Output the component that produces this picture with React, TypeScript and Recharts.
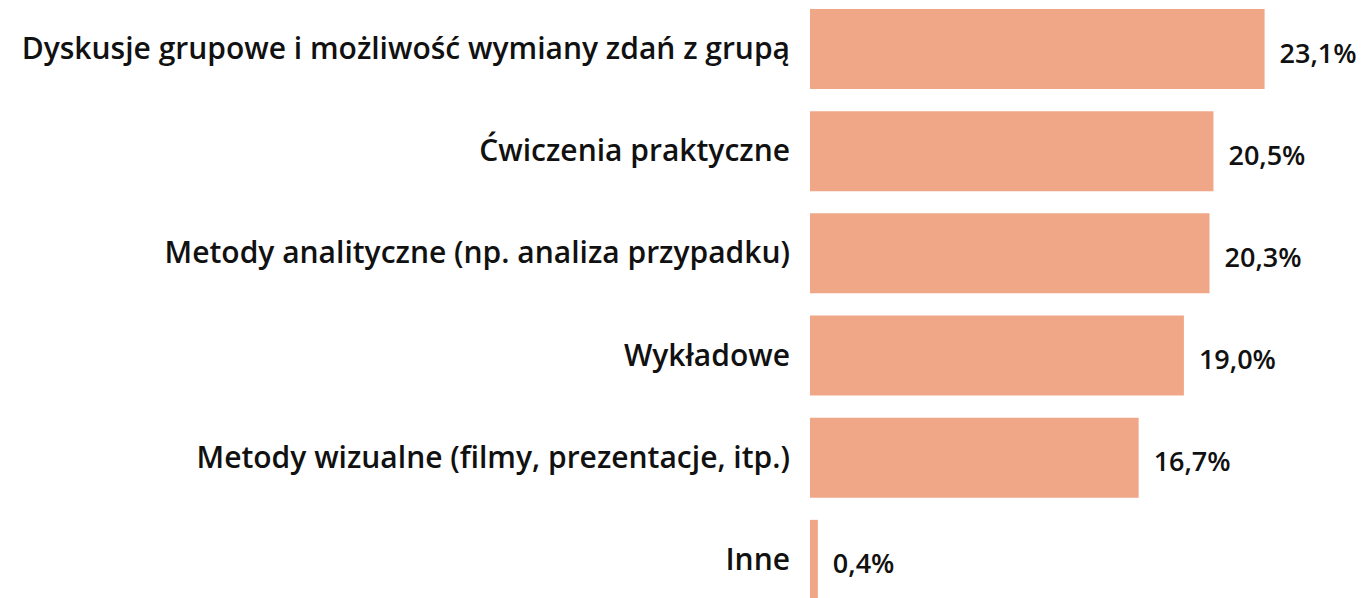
import React from 'react'
import { BarChart, Bar, XAxis, YAxis, LabelList } from 'recharts'

const categories = [
  'Dyskusje grupowe i możliwość wymiany zdań z grupą',
  'Ćwiczenia praktyczne',
  'Metody analityczne (np. analiza przypadku)',
  'Wykładowe',
  'Metody wizualne (filmy, prezentacje, itp.)',
  'Inne',
]
const shares = [23.1, 20.5, 20.3, 19.0, 16.7, 0.4]

const data = categories.map((name, i) => ({ name, value: shares[i] }))

const FONT = "'Open Sans', 'Noto Sans', sans-serif"

const CategoryTick = ({ x, y, payload }: any) => (
  <text
    x={x - 12}
    y={y}
    dy={10}
    textAnchor="end"
    fill="#111"
    fontFamily={FONT}
    fontWeight={600}
    fontSize={30}
  >
    {payload.value}
  </text>
)

const fmt = (v: any) => Number(v).toFixed(1).replace('.', ',') + '%'

export default function App() {
  return (
    <div style={{ position: 'fixed', inset: 0, overflow: 'hidden', background: '#fff' }}>
      <div style={{ position: 'absolute', top: -2, left: 0 }}>
        <BarChart
          width={1361}
          height={613}
          data={data}
          layout="vertical"
          margin={{ top: 0, right: 59, bottom: 0, left: 0 }}
        >
          <XAxis type="number" domain={[0, 25]} hide />
          <YAxis
            type="category"
            dataKey="name"
            width={810}
            axisLine={false}
            tickLine={false}
            tick={<CategoryTick />}
            interval={0}
          />
          <Bar dataKey="value" fill="#F0A787" barSize={80} isAnimationActive={false}>
            <LabelList
              dataKey="value"
              position="right"
              offset={15}
              formatter={fmt}
              fill="#111"
              fontFamily={FONT}
              fontWeight={600}
              fontSize={27}
              dy={4}
            />
          </Bar>
        </BarChart>
      </div>
    </div>
  )
}
